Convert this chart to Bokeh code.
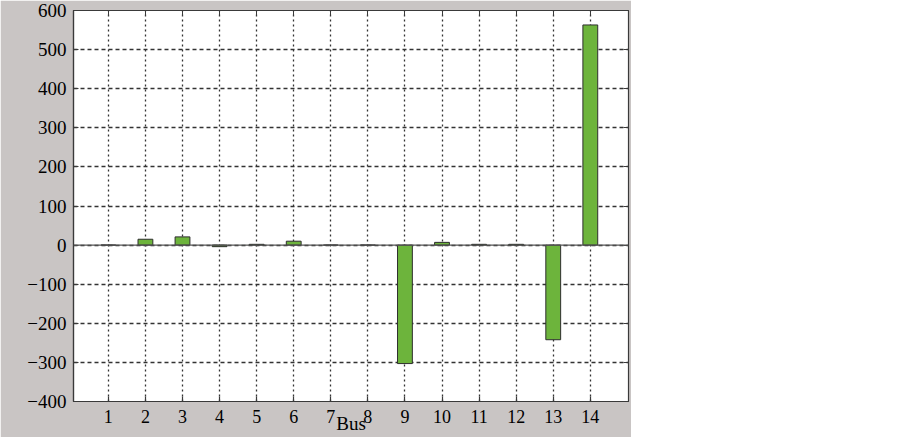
from bokeh.plotting import figure
from bokeh.models import FixedTicker, Span, LinearAxis, Range1d
from bokeh.embed import file_html
from bokeh.resources import INLINE

buses = list(range(1, 15))
values = [0, 15, 21, -4, 2, 10, 0, 0, -303, 7, 2, 2, -242, 563]
y_ticks = [-400, -300, -200, -100, 0, 100, 200, 300, 400, 500, 600]
y_tick_labels = {t: ("\u2212" + str(abs(t)) if t < 0 else str(t)) for t in y_ticks}
x_label = "Bus"

GRAY = "#c9c5c4"
DARK = "#3a3a3a"
FONT = "Liberation Serif"

p = figure(width=631, height=437, output_backend="svg", toolbar_location=None,
           x_range=Range1d(0.06, 15.03), y_range=Range1d(-400, 600),
           min_border_left=73, min_border_right=3, min_border_top=10, min_border_bottom=36)
p.border_fill_color = GRAY
p.background_fill_color = "white"
p.outline_line_color = DARK
p.outline_line_width = 1.2

p.vbar(x=buses, top=values, bottom=0, width=0.4, fill_color="#6db43c",
       line_color="#2e2e2e", line_width=1)

p.add_layout(Span(location=0, dimension="width", line_color="#555555", line_width=1.2))

for g in p.xgrid:
    g.ticker = FixedTicker(ticks=buses)
    g.grid_line_color = "#333333"
    g.grid_line_dash = "2 3"
    g.grid_line_width = 1.3
for g in p.ygrid:
    g.ticker = FixedTicker(ticks=y_ticks)
    g.grid_line_color = "#333333"
    g.grid_line_dash = "4 3"
    g.grid_line_width = 1.3

xa = p.xaxis[0]
xa.ticker = FixedTicker(ticks=buses)
xa.axis_label = x_label
ya = p.yaxis[0]
ya.ticker = FixedTicker(ticks=y_ticks)
ya.major_label_overrides = y_tick_labels

for ax in (xa, ya):
    ax.axis_line_color = DARK
    ax.axis_line_width = 1.2
    ax.major_tick_line_color = DARK
    ax.major_tick_line_width = 1.2
    ax.major_tick_in = 5
    ax.major_tick_out = 0
    ax.minor_tick_line_color = None
    ax.major_label_text_font = FONT
    ax.major_label_text_color = "black"
    ax.axis_label_text_font = FONT
    ax.axis_label_text_font_size = "19px"
    ax.axis_label_text_font_style = "normal"
    ax.axis_label_text_color = "black"

xa.major_label_text_font_size = "18px"
ya.major_label_text_font_size = "19px"
xa.major_label_standoff = 8
xa.axis_label_standoff = -13
ya.major_label_standoff = 7

top_ax = LinearAxis(ticker=FixedTicker(ticks=buses), major_label_text_color=None,
                    major_tick_in=5, major_tick_out=0, minor_tick_line_color=None,
                    axis_line_color=DARK, major_tick_line_color=DARK, major_label_standoff=0)
right_ax = LinearAxis(ticker=FixedTicker(ticks=y_ticks), major_label_text_color=None,
                      major_tick_in=5, major_tick_out=0, minor_tick_line_color=None,
                      axis_line_color=DARK, major_tick_line_color=DARK, major_label_standoff=0)
p.add_layout(top_ax, "above")
p.add_layout(right_ax, "right")

html = file_html(p, INLINE)
html = html.replace("<head>", "<head><style>body{margin:0;padding-left:5px;}</style>", 1)
open("out.html", "w").write(html)
